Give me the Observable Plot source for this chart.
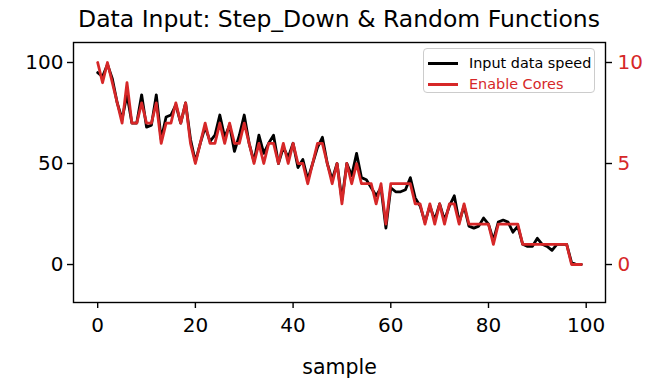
<!DOCTYPE html>
<html><head><meta charset="utf-8">
<script src="https://cdn.jsdelivr.net/npm/d3@7"></script>
<script src="https://cdn.jsdelivr.net/npm/@observablehq/plot@0.6"></script>
<style>
html,body{margin:0;padding:0;background:#fff;}
#wrap{position:relative;width:658px;height:379px;font-family:"DejaVu Sans",sans-serif;overflow:hidden;}
#title{box-sizing:border-box;width:658px;height:38px;line-height:38px;padding-left:20px;text-align:center;font-size:23.5px;color:#000;white-space:nowrap;}
#legend{position:absolute;left:423px;top:48px;width:172px;height:45px;box-sizing:border-box;border:1.4px solid #cccccc;border-radius:4px;background:rgba(255,255,255,0.8);font-size:14.4px;}
.row{position:absolute;left:4px;height:20px;line-height:20px;white-space:nowrap;}
.swatch{position:absolute;left:0;top:9px;width:30px;height:2.7px;}
.lab{position:absolute;left:41px;top:0;}
svg{display:block;}
</style></head>
<body>
<div id="wrap">
  <div id="title">Data Input: Step_Down &amp; Random Functions</div>
  <div id="chart"></div>
  <div id="legend"></div>
</div>
<script>
// Sample index (x axis)
const sample = d3.range(100);
// Input data speed (left axis)
const speed = [95,93,99,92,80,72,84,70,70,84, 68,69,84,62,73,74,79,70,80,62,
               51,60,68,61,64,74,63,69,56,64, 74,60,51,64,55,60,64,50,58,53,
               60,48,52,42,50,58,63,50,42,50, 32,50,44,55,43,42,38,34,38,18,
               38,36,36,37,43,33,29,21,29,22, 30,22,29,34,21,29,19,18,19,23,
               20,12,21,22,21,16,19,10,9,9, 13,10,9,7,10,10,10,1,0,0];
// Enable Cores (right axis)
const cores = [10,9,10,9,8,7,9,7,7,8, 7,7,8,6,7,7,8,7,8,6,
               5,6,7,6,6,7,6,7,6,6, 7,6,5,6,5,6,6,5,6,5,
               6,5,5,4,5,6,6,5,4,5, 3,5,4,5,4,4,4,3,4,2,
               4,4,4,4,4,3,3,2,3,2, 3,2,3,3,2,3,2,2,2,2,
               2,1,2,2,2,2,2,1,1,1, 1,1,1,1,1,1,1,0,0,0];
const xTicks = [0,20,40,60,80,100];
const leftTicks = [0,50,100];
const rightTicks = [0,5,10];
const seriesNames = ["Input data speed","Enable Cores"];
const seriesColors = ["#000000","#d62728"];

const rows = sample.map((s,i)=>({sample:s, speed:speed[i], cores:cores[i]}));
const coreScale = 10; // right axis 0..10 aligned with left 0..100

const chart = Plot.plot({
  width: 658, height: 341,
  marginLeft: 73, marginRight: 53, marginTop: 4, marginBottom: 77,
  style: {fontFamily: "DejaVu Sans, sans-serif", fontSize: "20px", color: "#000", background: "#fff"},
  x: {domain: [-4.95, 103.95]},
  y: {domain: [-18.8, 109.9]},
  marks: [
    Plot.line(rows, {x: "sample", y: "speed", stroke: seriesColors[0], strokeWidth: 2.8}),
    Plot.line(rows, {x: "sample", y: d => d.cores*coreScale, stroke: seriesColors[1], strokeWidth: 2.8}),
    Plot.frame({stroke: "#000", strokeWidth: 1.4}),
    Plot.axisX({ticks: xTicks, tickSize: 6, tickPadding: 9, label: null, fontSize: 20, strokeWidth: 1.4}),
    Plot.axisY({anchor: "left", ticks: leftTicks, tickSize: 6, tickPadding: 4, label: null, fontSize: 20, strokeWidth: 1.4}),
    Plot.axisY({anchor: "right", ticks: rightTicks.map(t=>t*coreScale), tickFormat: d => String(d/coreScale),
                tickSize: 6, tickPadding: 6, label: null, fontSize: 20, strokeWidth: 1.4, stroke: "#000", fill: seriesColors[1]}),
    Plot.text(["sample"], {frameAnchor: "bottom", dy: 71, fontSize: 20.5, fill: "#000"})
  ]
});
document.getElementById("chart").appendChild(chart);

const legend = document.getElementById("legend");
seriesNames.forEach((name,i)=>{
  const row = document.createElement("div");
  row.className = "row";
  row.style.top = (4 + i*21) + "px";
  const sw = document.createElement("div");
  sw.className = "swatch"; sw.style.background = seriesColors[i];
  const lab = document.createElement("div");
  lab.className = "lab"; lab.style.color = seriesColors[i]; lab.textContent = name;
  row.appendChild(sw); row.appendChild(lab);
  legend.appendChild(row);
});
</script>
</body></html>
